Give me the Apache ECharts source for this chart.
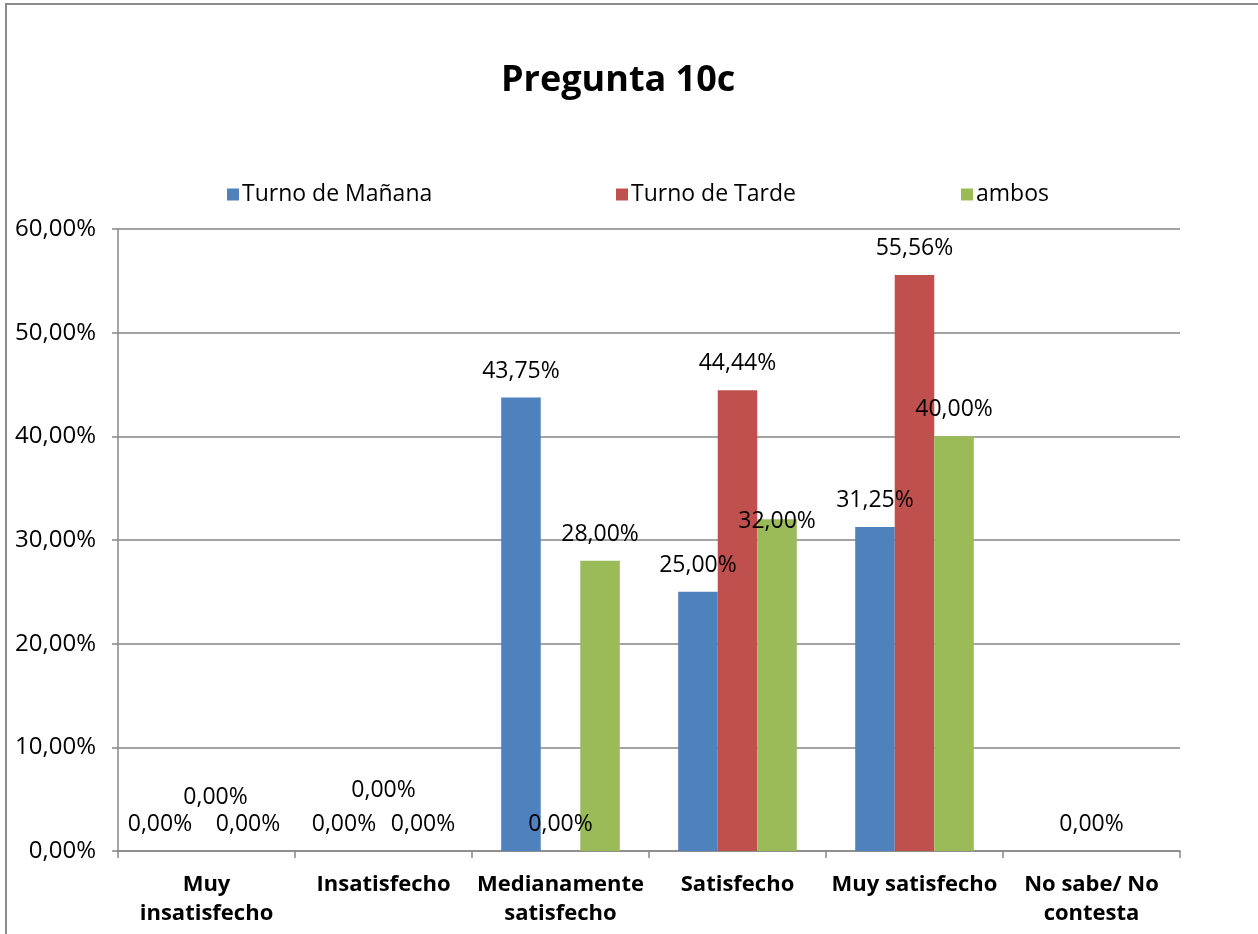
<!DOCTYPE html>
<html>
<head>
<meta charset="utf-8">
<script src="https://cdn.jsdelivr.net/npm/echarts@6/dist/echarts.min.js"></script>
<style>
  html, body { margin: 0; padding: 0; background: #fff; }
  #frame { position: absolute; left: 5px; top: 3px; width: 1300px; height: 1000px;
           border-left: 2px solid #8c8c8c; border-top: 2px solid #8c8c8c; }
  #chart { position: absolute; left: 0; top: 0; width: 1258px; height: 934px; }
</style>
</head>
<body>
<div id="frame"></div>
<div id="chart"></div>
<script>
var categories = ['Muy\ninsatisfecho', 'Insatisfecho', 'Medianamente\nsatisfecho', 'Satisfecho', 'Muy satisfecho', 'No sabe/ No\ncontesta'];
var seriesNames = ['Turno de Mañana', 'Turno de Tarde', 'ambos'];
var manana = [0, 0, 43.75, 25.00, 31.25, null];
var tarde  = [0, 0, 0, 44.44, 55.56, 0];
var ambos  = [0, 0, 28.00, 32.00, 40.00, null];
var yTicks = { min: 0, max: 60, interval: 10 };

var colors = ['#4f81bd', '#c0504d', '#9bbb59'];
var font = '"Open Sans", "Noto Sans", sans-serif';
var legendLeft = [222, 611, 956];

// Excel moved a few overlapping labels; keyed "series-category"
var labelShift = {
    '0-0': [-7, 0], '1-0': [9, -27], '2-0': [2, 0],
    '1-1': [0, -34],
    '2-3': [0, 29]
};

function pct(v) {
    return Number(v).toFixed(2).replace('.', ',') + '%';
}

function buildSeries(name, values, si) {
    return {
        name: name,
        type: 'bar',
        barGap: '0%',
        barCategoryGap: '33%',
        itemStyle: { color: colors[si] },
        label: {
            show: true, position: 'top', distance: 15,
            fontFamily: font, fontSize: 23, color: '#000',
            formatter: function (p) { return pct(p.value); }
        },
        data: values.map(function (v, ci) {
            var item = { value: v };
            var s = labelShift[si + '-' + ci];
            if (s) item.label = { offset: s };
            return item;
        })
    };
}

var chart = echarts.init(document.getElementById('chart'));
chart.setOption({
    animation: false,
    title: {
        text: 'Pregunta 10c', left: 496, top: 58,
        textStyle: { fontFamily: font, fontSize: 36, fontWeight: 'bold', color: '#000' }
    },
    legend: seriesNames.map(function (n, i) {
        return {
            data: [n], left: legendLeft[i], top: 178,
            itemWidth: 12, itemHeight: 12, icon: 'rect',
            textStyle: { fontFamily: font, fontSize: 23, color: '#000', padding: [0, 0, 0, -2] }
        };
    }),
    grid: { left: 118, right: 78, top: 229, bottom: 83 },
    xAxis: {
        type: 'category',
        data: categories,
        axisLine: { lineStyle: { color: '#868686', width: 1.5 } },
        axisTick: { show: true, length: 7, lineStyle: { color: '#868686', width: 1.5 } },
        axisLabel: {
            interval: 0, margin: 19, fontFamily: font, fontSize: 22,
            fontWeight: 'bold', color: '#000', lineHeight: 29
        }
    },
    yAxis: {
        type: 'value',
        min: yTicks.min, max: yTicks.max, interval: yTicks.interval,
        axisLine: { show: true, lineStyle: { color: '#868686', width: 1.5 } },
        axisTick: { show: true, length: 6, lineStyle: { color: '#868686', width: 1.5 } },
        splitLine: { lineStyle: { color: '#868686', width: 1.5 } },
        axisLabel: {
            margin: 22, fontFamily: font, fontSize: 24, color: '#000',
            formatter: function (v) { return pct(v); }
        }
    },
    series: [
        buildSeries(seriesNames[0], manana, 0),
        buildSeries(seriesNames[1], tarde, 1),
        buildSeries(seriesNames[2], ambos, 2)
    ]
});
</script>
</body>
</html>
